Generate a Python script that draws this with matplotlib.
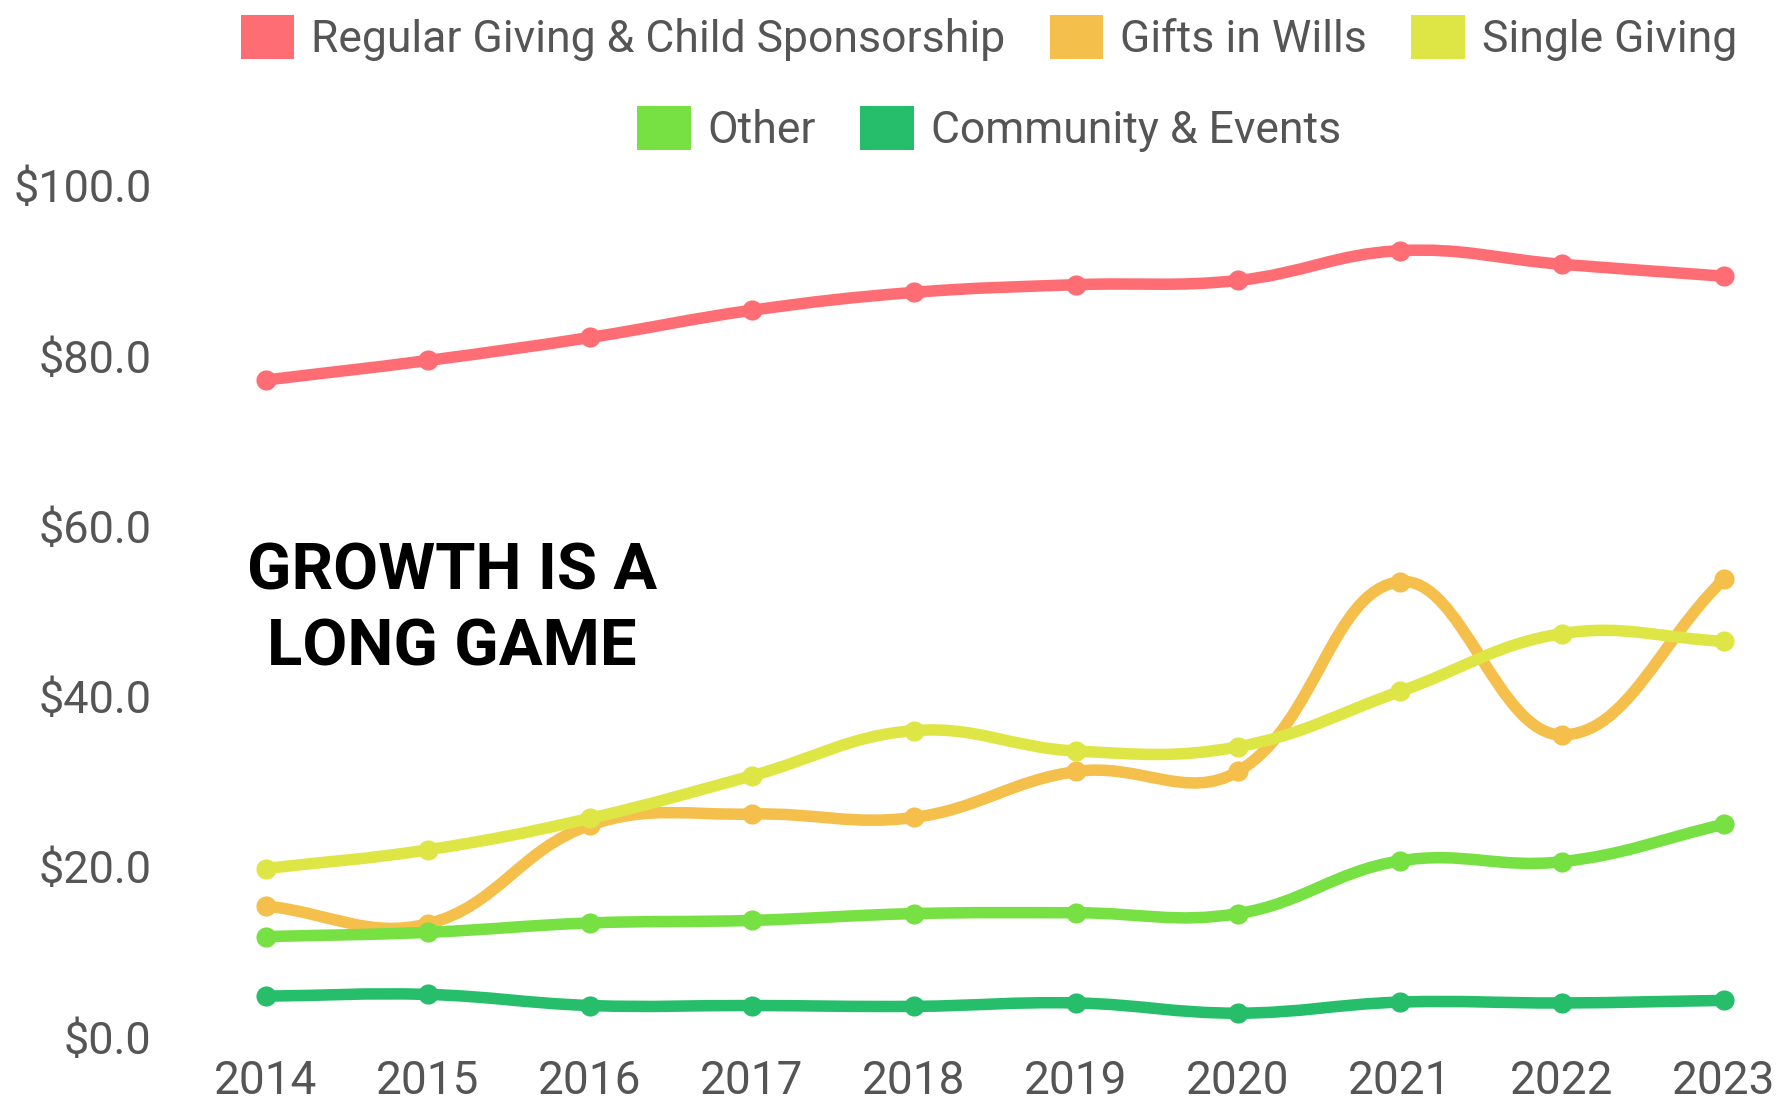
import numpy as np
import matplotlib
matplotlib.use("Agg")
import matplotlib.pyplot as plt
from matplotlib.path import Path
from matplotlib.patches import PathPatch, Patch

plt.rcParams["font.family"] = ["Roboto", "DejaVu Sans"]

# Income by stream, $ millions
years = [2014, 2015, 2016, 2017, 2018, 2019, 2020, 2021, 2022, 2023]
regular_giving = [77.2, 79.5, 82.2, 85.4, 87.5, 88.4, 88.9, 92.4, 90.8, 89.4]
gifts_in_wills = [15.4, 13.3, 24.9, 26.2, 25.8, 31.2, 31.2, 53.5, 35.5, 53.8]
single_giving = [19.8, 22.0, 25.7, 30.7, 36.0, 33.6, 34.1, 40.6, 47.4, 46.5]
other = [11.8, 12.3, 13.4, 13.7, 14.5, 14.6, 14.5, 20.7, 20.6, 25.0]
community_events = [4.8, 5.0, 3.7, 3.7, 3.6, 4.0, 2.8, 4.1, 4.0, 4.3]

series_names = ["Regular Giving & Child Sponsorship", "Gifts in Wills",
                "Single Giving", "Other", "Community & Events"]
series_values = [regular_giving, gifts_in_wills, single_giving, other, community_events]
colors = ["#FF6D74", "#F5BF4C", "#DEE646", "#77E043", "#26BE6A"]
y_ticks = [0, 20, 40, 60, 80, 100]

TEXT_GREY = "#555555"
W, H = 1787, 1105


def spline_path(xs, ys, sx, sy, tension=0.4):
    """Cubic bezier through the points, control points as in Chart.js splineCurve."""
    pts = np.column_stack([xs, ys]).astype(float)
    n = len(pts)
    cp_before, cp_after = [], []
    for i in range(n):
        p, c, nx = pts[max(i - 1, 0)], pts[i], pts[min(i + 1, n - 1)]
        d01 = np.hypot((c[0] - p[0]) * sx, (c[1] - p[1]) * sy)
        d12 = np.hypot((nx[0] - c[0]) * sx, (nx[1] - c[1]) * sy)
        tot = d01 + d12
        s01 = d01 / tot if tot else 0.0
        s12 = d12 / tot if tot else 0.0
        cp_before.append(c - tension * s01 * (nx - p))
        cp_after.append(c + tension * s12 * (nx - p))
    verts = [pts[0]]
    codes = [Path.MOVETO]
    for i in range(n - 1):
        verts += [cp_after[i], cp_before[i + 1], pts[i + 1]]
        codes += [Path.CURVE4] * 3
    return Path(verts, codes)


fig = plt.figure(figsize=(W / 100, H / 100), dpi=100)

# plot area in pixels
left_px, right_px = 175, 1787
x0_px, x1_px = 266, 1724          # 2014 and 2023
top_px, bottom_px = 186, 1037     # $100 and $0
px_per_year = (x1_px - x0_px) / 9
ax = fig.add_axes([left_px / W, 1 - bottom_px / H,
                   (right_px - left_px) / W, (bottom_px - top_px) / H])
ax.set_xlim(2014 - (x0_px - left_px) / px_per_year,
            2023 + (right_px - x1_px) / px_per_year)
ax.set_ylim(0, 100)
px_per_unit = (bottom_px - top_px) / 100

for k, (vals, col) in enumerate(zip(series_values, colors)):
    path = spline_path(years, vals, px_per_year, px_per_unit)
    ax.add_patch(PathPatch(path, facecolor="none", edgecolor=col, lw=8.3,
                           capstyle="round", joinstyle="round",
                           zorder=2 + k, clip_on=False))
    ax.plot(years, vals, "o", color=col, ms=14.5, mew=0, linestyle="none",
            zorder=2 + k, clip_on=False)

for s in ax.spines.values():
    s.set_visible(False)
ax.set_xticks(years)
ax.set_xticklabels([str(y) for y in years])
ax.set_yticks(y_ticks)
ax.set_yticklabels([f"${v:.1f}" for v in y_ticks])
ax.tick_params(axis="x", length=0, pad=16, labelsize=33, labelcolor=TEXT_GREY)
ax.tick_params(axis="y", length=0, pad=17, labelsize=32.5, labelcolor=TEXT_GREY)

# legend: three items on the first row, two centred below
handles = [Patch(facecolor=c, edgecolor="none") for c in colors]
legend_kw = dict(frameon=False, fontsize=32, labelcolor=TEXT_GREY,
                 handlelength=1.2, handleheight=1.15, handletextpad=0.38,
                 columnspacing=1.0, borderpad=0, borderaxespad=0, loc="center")
fig.legend(handles[:3], series_names[:3], ncol=3,
           bbox_to_anchor=(989 / W, 1 - 38 / H), **legend_kw)
fig.legend(handles[3:], series_names[3:], ncol=2,
           bbox_to_anchor=(989 / W, 1 - 129 / H), **legend_kw)

fig.text(452 / W, 1 - 610 / H, "GROWTH IS A\nLONG GAME", ha="center", va="center",
         multialignment="center", fontsize=47, fontweight="bold", color="black",
         linespacing=1.32)

fig.savefig("out.png", dpi=100, facecolor="white")
